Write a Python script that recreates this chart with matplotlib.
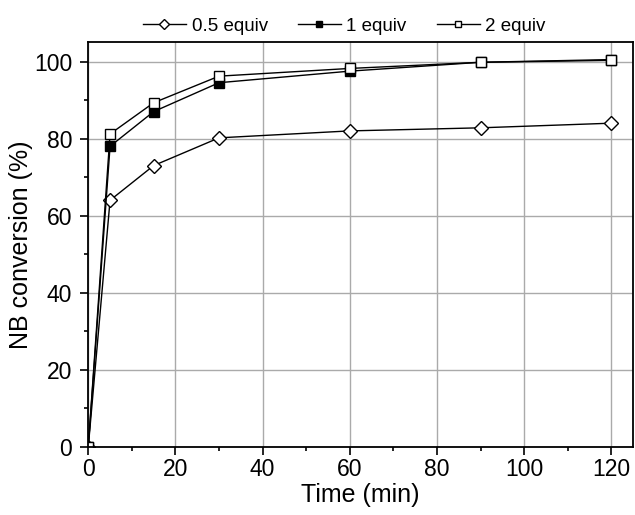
import matplotlib
matplotlib.use("Agg")
import matplotlib.pyplot as plt
from matplotlib.ticker import MultipleLocator

plt.rcParams['font.family'] = ['Liberation Sans', 'DejaVu Sans']

# data
time = [0, 5, 15, 30, 60, 90, 120]
conv_05 = [0, 64.0, 73.0, 80.2, 82.0, 82.8, 84.0]
conv_1 = [0, 78.0, 87.0, 94.5, 97.5, 99.8, 100.3]
conv_2 = [0, 81.2, 89.3, 96.2, 98.2, 99.8, 100.5]
labels = ['0.5 equiv', '1 equiv', '2 equiv']

fig = plt.figure(figsize=(6.35, 5.15), dpi=100)
ax = fig.add_axes([0.139, 0.132, 0.858, 0.786])

ax.plot(time, conv_05, color='black', lw=1, marker='D', ms=7, mfc='white',
        mec='black', mew=1, label=labels[0])
ax.plot(time, conv_1, color='black', lw=1, marker='s', ms=6.5, mfc='black',
        mec='black', label=labels[1])
ax.plot(time, conv_2, color='black', lw=1, marker='s', ms=6.5, mfc='white',
        mec='black', mew=1, label=labels[2])

ax.set_xlim(0, 125)
ax.set_ylim(0, 105)
ax.xaxis.set_major_locator(MultipleLocator(20))
ax.xaxis.set_minor_locator(MultipleLocator(10))
ax.yaxis.set_major_locator(MultipleLocator(20))
ax.yaxis.set_minor_locator(MultipleLocator(10))
ax.grid(True, which='major', color='#aaaaaa', lw=1)
ax.set_axisbelow(True)

ax.tick_params(which='both', direction='out', labelsize=16.5, width=1.2, pad=2)
ax.tick_params(axis='y', which='major', pad=5.5)
ax.tick_params(which='major', length=6)
ax.tick_params(which='minor', length=3)
for s in ax.spines.values():
    s.set_linewidth(1.3)

ax.set_xlabel('Time (min)', fontsize=18, labelpad=1)
ax.set_ylabel('NB conversion (%)', fontsize=18, labelpad=1)

ax.legend(loc='lower center', bbox_to_anchor=(0.47, 0.995), ncol=3, frameon=False,
          fontsize=13.5, handlelength=2.3, columnspacing=1.6, handletextpad=0.3,
          markerscale=0.7, borderaxespad=0.1)

fig.savefig('out.png', dpi=100)
